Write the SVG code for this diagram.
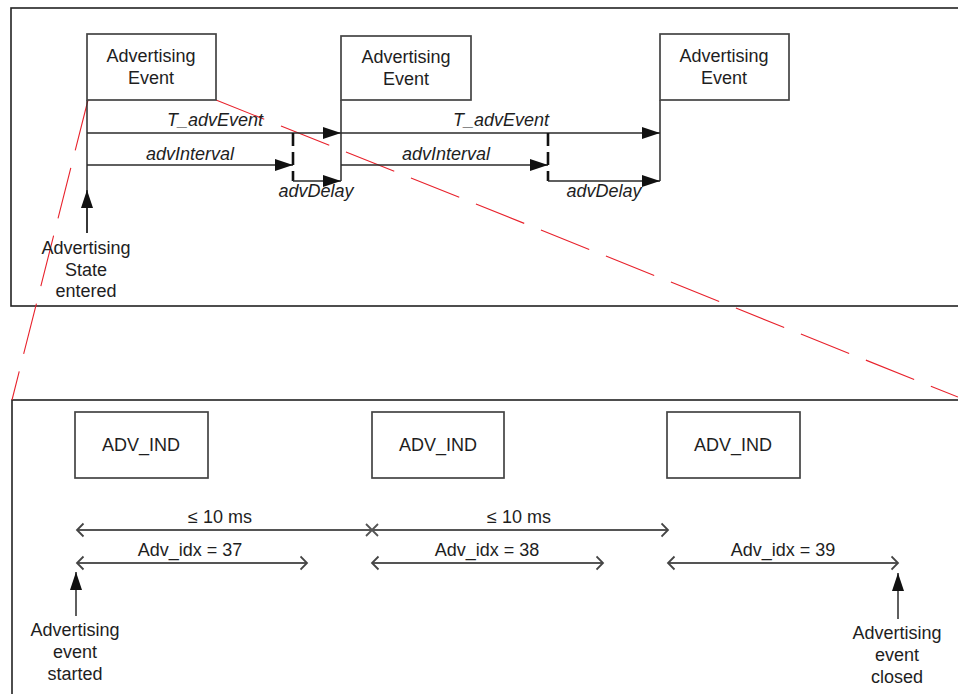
<svg xmlns="http://www.w3.org/2000/svg" width="958" height="694" viewBox="0 0 958 694">
  <style>
    .frame { fill: none; stroke: #222; stroke-width: 1.6; }
    .box { fill: #fff; stroke: #444; stroke-width: 1.7; }
    .line { fill: none; stroke: #2a2a2a; stroke-width: 1.5; }
    .dash { fill: none; stroke: #111; stroke-width: 2.6; stroke-dasharray: 13 6; }
    .thin { fill: none; stroke: #555; stroke-width: 1.8; }
    .zoom { fill: none; stroke: #e8222c; stroke-width: 1.1; stroke-dasharray: 52 18; }
    text { font-family: "Liberation Sans", Arial, sans-serif; font-size: 18px; fill: #1e1e1e; text-anchor: middle; }
    .it { font-style: italic; }
  </style>
  <defs>
    <marker id="tri" markerUnits="userSpaceOnUse" markerWidth="19" markerHeight="14" refX="18" refY="7" orient="auto">
      <path d="M0,1 L18,7 L0,13 Z" fill="#111"/>
    </marker>
    <marker id="open" markerUnits="userSpaceOnUse" markerWidth="10" markerHeight="18" refX="7.5" refY="9" orient="auto-start-reverse">
      <path d="M1,2.5 L7.5,9 L1,15.5" fill="none" stroke="#444" stroke-width="1.8"/>
    </marker>
  </defs>

  <!-- frames -->
  <rect class="frame" x="11" y="8" width="962" height="298"/>
  <rect class="frame" x="12" y="400" width="962" height="310"/>

  <!-- zoom guides from the first advertising event -->
  <g id="zoom-guides">
    <line class="zoom" x1="88" y1="100" x2="12" y2="400"/>
    <line class="zoom" x1="216" y1="100" x2="958" y2="397"/>
  </g>

  <!-- timeline connectors -->
  <g id="connectors">
    <line class="line" x1="87" y1="100" x2="87" y2="233"/>
    <line class="line" x1="87" y1="233" x2="87" y2="190" marker-end="url(#tri)"/>
    <line class="line" x1="87" y1="133" x2="341" y2="133" marker-end="url(#tri)"/>
    <line class="line" x1="87" y1="165" x2="293" y2="165" marker-end="url(#tri)"/>
    <line class="dash" x1="293" y1="133" x2="293" y2="181"/>
    <line class="line" x1="293" y1="181" x2="341" y2="181" marker-end="url(#tri)"/>
    <line class="line" x1="341" y1="100" x2="341" y2="181"/>

    <line class="line" x1="341" y1="133" x2="660" y2="133" marker-end="url(#tri)"/>
    <line class="line" x1="341" y1="165" x2="548" y2="165" marker-end="url(#tri)"/>
    <line class="dash" x1="548" y1="133" x2="548" y2="181"/>
    <line class="line" x1="548" y1="181" x2="660" y2="181" marker-end="url(#tri)"/>
    <line class="line" x1="660" y1="100" x2="660" y2="181"/>

    <!-- bottom timeline -->
    <line class="thin" x1="77" y1="530" x2="668" y2="530" marker-start="url(#open)" marker-end="url(#open)"/>
    <path class="thin" d="M366,524 L378,536 M378,524 L366,536" stroke="#333"/>
    <line class="thin" x1="77" y1="563" x2="307" y2="563" marker-start="url(#open)" marker-end="url(#open)"/>
    <line class="thin" x1="372" y1="563" x2="603" y2="563" marker-start="url(#open)" marker-end="url(#open)"/>
    <line class="thin" x1="668" y1="563" x2="898" y2="563" marker-start="url(#open)" marker-end="url(#open)"/>
    <line class="line" x1="76" y1="616" x2="76" y2="572" marker-end="url(#tri)"/>
    <line class="line" x1="898" y1="619" x2="898" y2="573" marker-end="url(#tri)"/>
  </g>

  <!-- connector labels -->
  <g id="labels">
    <text class="it" x="215" y="126">T_advEvent</text>
    <text class="it" x="190" y="160">advInterval</text>
    <text class="it" x="316" y="197">advDelay</text>
    <text class="it" x="501" y="126">T_advEvent</text>
    <text class="it" x="446" y="160">advInterval</text>
    <text class="it" x="604" y="197">advDelay</text>

    <text x="220" y="523">≤ 10 ms</text>
    <text x="519" y="523">≤ 10 ms</text>
    <text x="190" y="556">Adv_idx = 37</text>
    <text x="487" y="556">Adv_idx = 38</text>
    <text x="783" y="556">Adv_idx = 39</text>
  </g>

  <!-- advertising events -->
  <g id="adv-event-1">
    <rect class="box" x="87" y="34" width="129" height="66"/>
    <text x="151" y="62">Advertising</text>
    <text x="151" y="84">Event</text>
  </g>
  <g id="adv-event-2">
    <rect class="box" x="341" y="36" width="130" height="64"/>
    <text x="406" y="63">Advertising</text>
    <text x="406" y="85">Event</text>
  </g>
  <g id="adv-event-3">
    <rect class="box" x="660" y="34" width="129" height="66"/>
    <text x="724" y="62">Advertising</text>
    <text x="724" y="84">Event</text>
  </g>
  <g id="state-entered">
    <text x="86" y="254">Advertising</text>
    <text x="86" y="276">State</text>
    <text x="86" y="297">entered</text>
  </g>

  <!-- packets -->
  <g id="adv-ind-1">
    <rect class="box" x="75" y="412" width="133" height="66"/>
    <text x="141" y="451">ADV_IND</text>
  </g>
  <g id="adv-ind-2">
    <rect class="box" x="372" y="412" width="132" height="66"/>
    <text x="438" y="451">ADV_IND</text>
  </g>
  <g id="adv-ind-3">
    <rect class="box" x="667" y="412" width="133" height="66"/>
    <text x="733" y="451">ADV_IND</text>
  </g>
  <g id="event-started">
    <text x="75" y="636">Advertising</text>
    <text x="75" y="658">event</text>
    <text x="75" y="680">started</text>
  </g>
  <g id="event-closed">
    <text x="897" y="639">Advertising</text>
    <text x="897" y="661">event</text>
    <text x="897" y="683">closed</text>
  </g>
</svg>
